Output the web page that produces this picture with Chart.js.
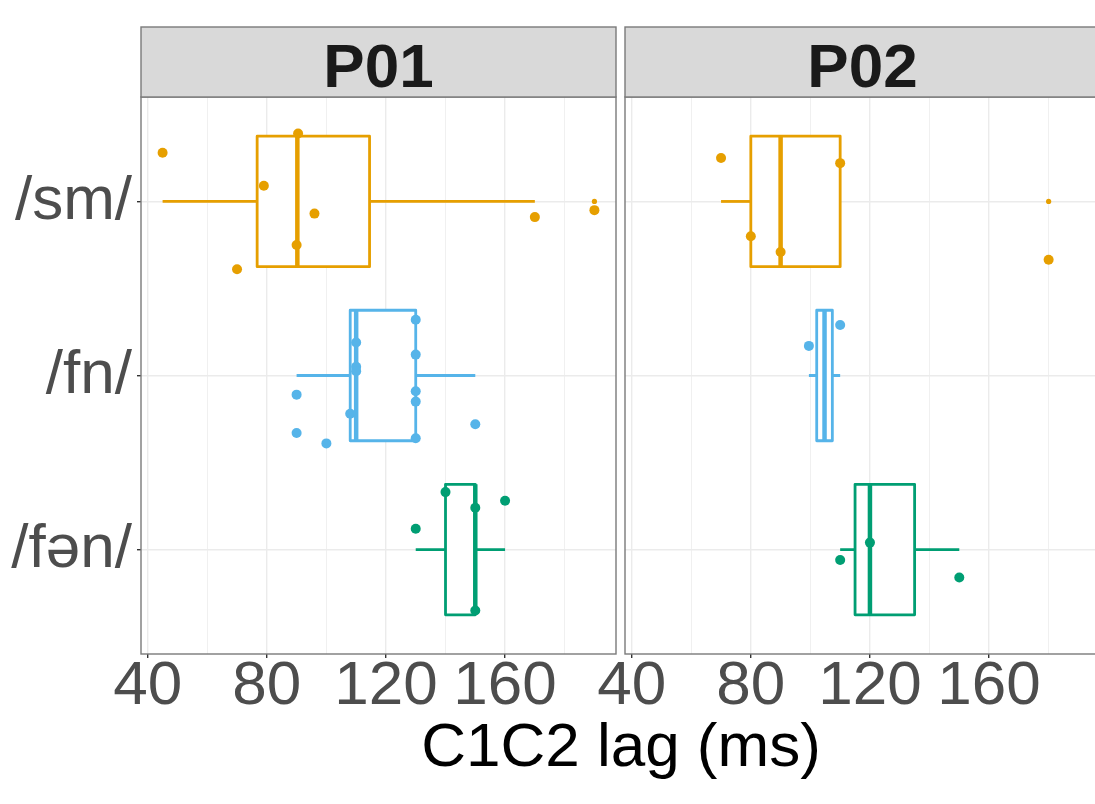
<!DOCTYPE html>
<html>
<head>
<meta charset="utf-8">
<script src="https://cdn.jsdelivr.net/npm/chart.js@4.4.0/dist/chart.umd.min.js"></script>
<style>
html, body { margin: 0; padding: 0; background: #fff; width: 1095px; height: 804px; overflow: hidden; position: relative; }
canvas { position: absolute; top: 0; }
#c1 { left: 0; }
#c2 { left: 560px; }
#xtitle { position: absolute; left: 321px; width: 600px; top: 714px; text-align: center;
  font: 62px/62px "Liberation Sans", Arial, sans-serif; color: #000; white-space: nowrap; }
</style>
</head>
<body>
<canvas id="c1" width="621" height="804"></canvas>
<canvas id="c2" width="545" height="804"></canvas>
<div id="xtitle">C1C2 lag (ms)</div>
<script>
const categories = ["/sm/", "/fn/", "/fən/"];
const panelNames = ["P01", "P02"];
const colours = ["#E69F00", "#56B4E9", "#009E73"];
const majorTicks = [40, 80, 120, 160];
const minorTicks = [60, 100, 140, 180];

// lag values (ms) per cluster, with the vertical jitter of each dot (category units)
const p01Sm = [45, 70, 79, 90, 90.5, 96, 170, 190];
const p01SmJit = [-0.28, 0.39, -0.09, 0.25, -0.39, 0.07, 0.09, 0.05];
const p01Fn = [90, 90, 100, 108, 110, 110, 110, 130, 130, 130, 130, 130, 150];
const p01FnJit = [0.11, 0.33, 0.39, 0.22, -0.19, -0.05, -0.025, -0.32, -0.12, 0.09, 0.15, 0.36, 0.28];
const p01Fen = [130, 140, 150, 150, 160];
const p01FenJit = [-0.12, -0.33, -0.24, 0.35, -0.28];

const p02Sm = [70, 80, 90, 110, 180];
const p02SmJit = [-0.25, 0.2, 0.29, -0.22, 0.335];
const p02Fn = [99.5, 110];
const p02FnJit = [-0.17, -0.29];
const p02Fen = [110, 120, 150];
const p02FenJit = [0.06, -0.04, 0.16];

const FONT = "'Liberation Sans', Arial, sans-serif";

function quantile(sorted, p) {
    let h = (sorted.length - 1) * p;
    let lo = Math.floor(h);
    let hi = Math.ceil(h);
    return sorted[lo] + (h - lo) * (sorted[hi] - sorted[lo]);
}

function boxStats(vals) {
    let s = vals.slice().sort((a, b) => a - b);
    let q1 = quantile(s, 0.25), med = quantile(s, 0.5), q3 = quantile(s, 0.75);
    let iqr = q3 - q1;
    let inFence = v => v >= q1 - 1.5 * iqr && v <= q3 + 1.5 * iqr;
    let inside = s.filter(inFence);
    return {q1: q1, med: med, q3: q3, lo: inside[0], hi: inside[inside.length - 1],
        out: s.filter(v => !inFence(v))};
}

// shared x range, ggplot style 5% expansion
let allVals = [].concat(p01Sm, p01Fn, p01Fen, p02Sm, p02Fn, p02Fen);
let vMin = Math.min(...allVals), vMax = Math.max(...allVals);
let xMin = vMin - (vMax - vMin) * 0.05;
let xMax = vMax + (vMax - vMin) * 0.05;

function makeBoxPlugin(stats) {
    return {
        id: "boxes",
        beforeDatasetsDraw(chart) {
            let ctx = chart.ctx, xs = chart.scales.x, ys = chart.scales.y;
            ctx.save();
            stats.forEach((st, i) => {
                let yc = i + 1;
                let top = ys.getPixelForValue(yc - 0.375);
                let bot = ys.getPixelForValue(yc + 0.375);
                let mid = ys.getPixelForValue(yc);
                let xq1 = xs.getPixelForValue(st.q1), xq3 = xs.getPixelForValue(st.q3);
                ctx.strokeStyle = colours[i];
                ctx.lineWidth = 2.8;
                ctx.lineCap = "butt";
                ctx.beginPath();
                ctx.moveTo(xs.getPixelForValue(st.lo), mid);
                ctx.lineTo(xq1, mid);
                ctx.moveTo(xq3, mid);
                ctx.lineTo(xs.getPixelForValue(st.hi), mid);
                ctx.stroke();
                ctx.fillStyle = "#fff";
                ctx.fillRect(xq1, top, xq3 - xq1, bot - top);
                ctx.lineJoin = "round";
                ctx.strokeRect(xq1, top, xq3 - xq1, bot - top);
                ctx.lineWidth = 4.5;
                let xm = xs.getPixelForValue(st.med);
                ctx.beginPath();
                ctx.moveTo(xm, top);
                ctx.lineTo(xm, bot);
                ctx.stroke();
            });
            ctx.restore();
        }
    };
}

function makePanelPlugin(name) {
    return {
        id: "panel",
        afterDraw(chart) {
            let ctx = chart.ctx, a = chart.chartArea;
            ctx.save();
            ctx.strokeStyle = "#7A7A7A";
            ctx.lineWidth = 1.4;
            ctx.strokeRect(a.left, a.top, a.right - a.left, a.bottom - a.top);
            ctx.fillStyle = "#D9D9D9";
            ctx.fillRect(a.left, a.top - 70, a.right - a.left, 70);
            ctx.strokeRect(a.left, a.top - 70, a.right - a.left, 70);
            ctx.fillStyle = "#1A1A1A";
            ctx.font = "bold 62px " + FONT;
            ctx.textAlign = "center";
            ctx.textBaseline = "alphabetic";
            ctx.fillText(name, (a.left + a.right) / 2, a.top - 10);
            ctx.restore();
        }
    };
}

function buildDatasets(groups, jitters) {
    let sets = [];
    groups.forEach((vals, i) => {
        sets.push({
            data: vals.map((v, k) => ({x: v, y: i + 1 + jitters[i][k]})),
            pointRadius: 5,
            pointBackgroundColor: colours[i],
            pointBorderWidth: 0
        });
        sets.push({
            data: boxStats(vals).out.map(v => ({x: v, y: i + 1})),
            pointRadius: 2.6,
            pointBackgroundColor: colours[i],
            pointBorderWidth: 0
        });
    });
    return sets;
}

function renderPanel(canvasId, panelIdx, groups, jitters, showY) {
    let stats = groups.map(boxStats);
    let tickFont = {family: FONT, size: 62};
    let ctx = document.getElementById(canvasId).getContext("2d");
    return new Chart(ctx, {
        type: "scatter",
        data: {datasets: buildDatasets(groups, jitters)},
        plugins: [makeBoxPlugin(stats), makePanelPlugin(panelNames[panelIdx])],
        options: {
            responsive: false,
            animation: false,
            events: [],
            layout: {padding: {top: 97, right: 4, left: 0, bottom: 0}},
            plugins: {legend: {display: false}, tooltip: {enabled: false}},
            scales: {
                x: {
                    type: "linear",
                    min: xMin,
                    max: xMax,
                    afterBuildTicks: s => { s.ticks = majorTicks.concat(minorTicks).sort((a, b) => a - b).map(v => ({value: v})); },
                    afterFit: s => { s.height = 150; },
                    border: {display: false},
                    grid: {
                        color: c => (c.tick && minorTicks.includes(c.tick.value)) ? "#F0F0F0" : "#EBEBEB",
                        lineWidth: c => (c.tick && minorTicks.includes(c.tick.value)) ? 1 : 1.4,
                        tickColor: c => (c.tick && majorTicks.includes(c.tick.value)) ? "#333333" : "rgba(0,0,0,0)",
                        tickLength: 4,
                        tickWidth: 1.4
                    },
                    ticks: {
                        autoSkip: false,
                        maxRotation: 0,
                        font: tickFont,
                        color: "#4D4D4D",
                        padding: -8,
                        callback: v => majorTicks.includes(v) ? String(v) : ""
                    }
                },
                y: {
                    type: "linear",
                    reverse: true,
                    min: 0.4,
                    max: 3.6,
                    afterBuildTicks: s => { s.ticks = categories.map((c, i) => ({value: i + 1})); },
                    afterFit: s => { s.width = showY ? 141 : 65; },
                    border: {display: false},
                    grid: {
                        color: "#EBEBEB",
                        lineWidth: 1.4,
                        drawTicks: showY,
                        tickColor: "#333333",
                        tickLength: 4,
                        tickWidth: 1.4
                    },
                    ticks: {
                        display: showY,
                        font: tickFont,
                        color: "#4D4D4D",
                        padding: 5,
                        callback: v => categories[v - 1]
                    }
                }
            }
        }
    });
}

renderPanel("c1", 0, [p01Sm, p01Fn, p01Fen], [p01SmJit, p01FnJit, p01FenJit], true);
renderPanel("c2", 1, [p02Sm, p02Fn, p02Fen], [p02SmJit, p02FnJit, p02FenJit], false);
</script>
</body>
</html>
